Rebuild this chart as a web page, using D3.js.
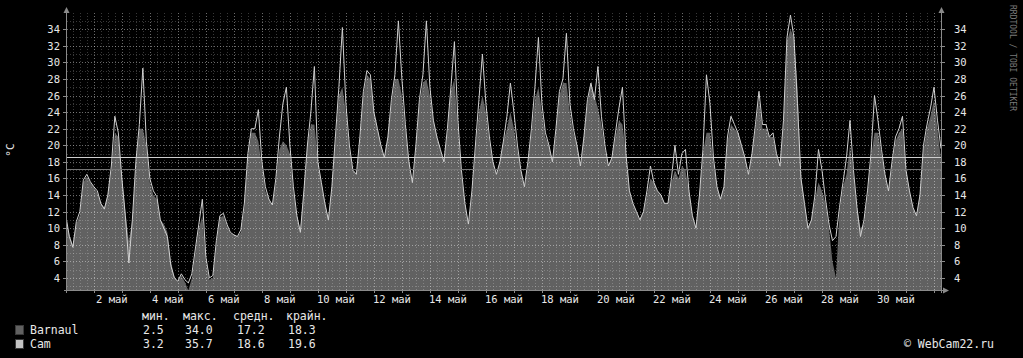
<!DOCTYPE html>
<html>
<head>
<meta charset="utf-8">
<script src="https://cdn.jsdelivr.net/npm/d3@7"></script>
<style>
  html, body { margin: 0; background: #000; }
  svg { display: block; }
  text { font-family: "DejaVu Sans Mono", monospace; fill: #e8e8e8; }
</style>
</head>
<body>
<svg id="chart" width="1023" height="358"></svg>
<script>
// ---- data: 3-hourly samples starting 1 May 00:00 ----
const firstSample = Date.UTC(2024, 4, 1, 0);
const stepHours = 3;

const barnaul = [
  11.5, 9.2, 8.0, 10.5, 11.6, 15.5, 16.2, 15.5,
  15.0, 14.3, 13.0, 12.5, 14.0, 17.0, 21.5, 21.0,
  16.5, 12.0, 8.5, 11.0, 17.5, 22.0, 22.0, 20.0,
  15.5, 14.0, 13.5, 11.0, 10.5, 9.5, 6.0, 4.2,
  3.5, 4.3, 3.5, 2.5, 4.0, 7.0, 10.0, 11.5,
  6.0, 3.8, 4.0, 8.0, 11.3, 11.5, 10.3, 9.4,
  9.2, 9.0, 9.5, 12.5, 18.5, 21.5, 21.5, 20.5,
  17.5, 14.5, 13.5, 12.8, 15.5, 19.5, 20.5, 20.0,
  19.0, 14.5, 11.5, 9.8, 14.5, 20.0, 22.5, 22.5,
  18.0, 15.5, 13.0, 11.2, 15.0, 20.5, 26.0, 27.0,
  24.0, 19.5, 17.0, 16.5, 20.5, 26.0, 28.5, 28.0,
  24.0, 22.0, 20.0, 18.5, 21.0, 25.0, 28.0, 28.0,
  26.0, 22.0, 18.0, 15.5, 19.5, 25.0, 27.5, 28.0,
  26.0, 23.0, 21.0, 19.5, 18.0, 21.5, 26.5, 28.0,
  22.0, 16.5, 13.0, 10.5, 14.0, 19.5, 24.0, 26.0,
  24.0, 20.5, 18.0, 16.5, 18.0, 20.5, 22.0, 24.0,
  22.0, 19.5, 17.0, 15.0, 17.5, 21.5, 25.5, 27.0,
  24.0, 21.0, 20.0, 18.0, 21.5, 26.0, 27.5, 27.5,
  24.0, 21.5, 20.0, 17.5, 21.0, 25.0, 27.5, 26.0,
  24.5, 22.5, 19.5, 17.5, 18.5, 21.0, 23.0, 22.5,
  19.0, 14.5, 13.0, 12.0, 11.0, 12.0, 14.0, 16.0,
  15.5, 14.5, 14.0, 13.0, 13.0, 15.5, 17.0, 16.0,
  17.5, 17.0, 14.5, 11.5, 10.0, 14.0, 19.0, 21.5,
  21.5, 18.0, 15.0, 13.5, 15.0, 20.5, 22.5, 22.0,
  21.5, 20.0, 18.5, 16.5, 19.0, 22.0, 25.5, 22.0,
  22.0, 21.0, 21.0, 19.0, 17.5, 22.5, 32.5, 34.0,
  33.0, 27.0, 16.5, 13.0, 10.0, 11.0, 13.5, 15.5,
  14.5, 13.0, 10.0, 6.0, 4.0, 12.0, 15.0, 16.5,
  20.0, 16.5, 12.5, 10.0, 10.5, 14.0, 18.5, 21.5,
  21.5, 19.0, 16.5, 14.5, 17.5, 20.5, 21.5, 22.0,
  17.0, 14.5, 12.5, 11.5, 14.0, 19.5, 22.0, 23.5,
  25.5, 22.0, 18.3
];

const cam = [
  11.5, 9.0, 7.7, 10.8, 12.0, 15.8, 16.5, 15.6,
  15.0, 14.5, 13.0, 12.3, 14.0, 17.5, 23.5, 21.5,
  16.0, 11.5, 5.8, 11.0, 18.0, 22.5, 29.3, 20.5,
  16.0, 14.5, 13.8, 11.0, 10.0, 9.0, 5.5, 4.0,
  3.6, 4.5, 3.8, 3.4, 4.5, 7.5, 10.5, 13.5,
  6.5, 4.0, 4.3, 8.5, 11.5, 11.8, 10.5, 9.5,
  9.2, 9.0, 9.8, 13.0, 19.0, 22.0, 22.0, 24.3,
  18.0, 15.0, 13.5, 12.8, 16.0, 21.0, 25.0, 27.0,
  20.0, 15.0, 11.5, 9.5, 14.5, 20.0, 24.0, 29.5,
  18.0, 15.5, 13.0, 11.0, 15.0, 21.0, 27.0, 34.2,
  25.0, 20.0, 17.0, 16.5, 21.0, 26.5, 29.0, 28.5,
  24.0, 22.0, 20.0, 18.5, 21.0, 25.5, 28.5, 35.0,
  28.0, 22.5, 18.0, 15.5, 20.0, 25.5, 28.5, 35.0,
  27.0, 23.0, 21.0, 19.5, 18.0, 22.0, 27.0, 32.5,
  23.0, 17.0, 13.0, 10.5, 14.5, 20.0, 25.5, 31.0,
  25.0, 21.0, 18.0, 16.5, 18.0, 20.5, 23.5, 27.5,
  24.0, 20.0, 17.0, 15.0, 18.0, 22.0, 27.0, 33.0,
  25.0, 21.5, 20.0, 18.0, 22.0, 26.5, 28.0, 33.5,
  25.0, 22.0, 20.0, 17.5, 21.0, 25.5, 27.5, 25.5,
  29.5, 23.5, 20.0, 17.5, 18.5, 21.5, 24.5, 27.0,
  19.0, 14.5, 13.0, 12.0, 11.0, 12.0, 14.5, 17.5,
  15.5, 14.5, 14.0, 13.0, 13.0, 16.0, 20.0, 16.5,
  19.0, 19.5, 14.5, 11.5, 10.0, 14.0, 19.5, 28.5,
  25.0, 18.5, 15.0, 13.5, 15.0, 21.0, 23.5, 22.5,
  21.5, 20.0, 18.5, 16.5, 19.0, 22.5, 26.5, 22.5,
  22.5, 21.0, 21.5, 19.0, 17.5, 23.0, 33.0, 35.7,
  33.0, 25.0, 16.0, 13.0, 10.0, 11.0, 14.0, 19.5,
  17.0, 13.5, 10.5, 8.5, 9.0, 12.5, 15.5, 18.5,
  23.0, 17.0, 12.5, 9.0, 11.0, 14.5, 19.0, 26.0,
  23.0, 19.5, 16.5, 14.5, 18.0, 21.0, 22.0, 23.5,
  17.0, 14.5, 12.5, 11.5, 14.0, 20.0, 22.5, 24.5,
  27.0, 23.0, 19.6
];

const seriesNames = ['Barnaul', 'Cam'];
const legendHeads = ['мин.', 'макс.', 'средн.', 'крайн.'];
const legendBarnaul = ['2.5', '34.0', '17.2', '18.3'];
const legendCam = ['3.2', '35.7', '18.6', '19.6'];
const averages = [17.2, 18.6];
const unitLabel = '°C';
const monthLabel = 'май';

(function () {
  // ---- layout ----
  const W = 1023, H = 358;
  const pL = 67, pR = 941, pT = 13, pB = 290;
  const colArea = '#616161', colLine = '#cfcfcf';

  const svg = d3.select('#chart');
  svg.append('rect').attr('width', W).attr('height', H).attr('fill', '#000');

  const x = d3.scaleUtc()
    .domain([Date.UTC(2024, 4, 1, 1), Date.UTC(2024, 5, 1, 6)])
    .range([pL, pR]);
  const y = d3.scaleLinear().domain([2.55, 35.95]).range([pB, pT]);

  const toPoints = arr => arr.map((v, i) => ({t: new Date(firstSample + i * stepHours * 3600e3), v}));
  const ptsB = toPoints(barnaul), ptsC = toPoints(cam);

  svg.append('clipPath').attr('id', 'plot')
    .append('rect').attr('x', pL).attr('y', pT).attr('width', pR - pL).attr('height', pB - pT);

  const gData = svg.append('g').attr('clip-path', 'url(#plot)');

  gData.append('path')
    .datum(ptsB)
    .attr('fill', colArea)
    .attr('d', d3.area().x(d => x(d.t)).y0(pB).y1(d => y(d.v)));

  gData.append('path')
    .datum(ptsC)
    .attr('fill', 'none')
    .attr('stroke', colLine)
    .attr('stroke-width', 1)
    .attr('d', d3.line().x(d => x(d.t)).y(d => y(d.v)));

  // ---- grid (drawn over the data, like rrdtool) ----
  const gGrid = svg.append('g');
  const px = v => Math.round(v) + 0.5;
  const [t0, t1] = x.domain();

  d3.utcHour.every(6).range(t0, t1).forEach(t => {
    const isDay = t.getUTCHours() === 0;
    gGrid.append('line')
      .attr('x1', px(x(t))).attr('x2', px(x(t)))
      .attr('y1', pT).attr('y2', pB)
      .attr('stroke', isDay ? 'rgba(255,255,255,0.42)' : 'rgba(255,255,255,0.22)')
      .attr('stroke-dasharray', '1,2');
  });
  d3.range(3, 36).forEach(v => {
    const major = v % 2 === 0 && v >= 4 && v <= 34;
    gGrid.append('line')
      .attr('x1', pL).attr('x2', pR)
      .attr('y1', px(y(v))).attr('y2', px(y(v)))
      .attr('stroke', major ? 'rgba(255,255,255,0.42)' : 'rgba(255,255,255,0.22)')
      .attr('stroke-dasharray', '1,2');
  });

  // averages
  svg.append('line')
    .attr('x1', pL).attr('x2', pR)
    .attr('y1', px(y(averages[0]))).attr('y2', px(y(averages[0])))
    .attr('stroke', '#767676');
  svg.append('line')
    .attr('x1', pL).attr('x2', pR)
    .attr('y1', px(y(averages[1]))).attr('y2', px(y(averages[1])))
    .attr('stroke', colLine);

  // ---- axes ----
  const axisCol = '#8a8a8a';
  const gAxis = svg.append('g');
  gAxis.append('line').attr('x1', pL - 0.5).attr('x2', pL - 0.5).attr('y1', pB + 3).attr('y2', 10).attr('stroke', axisCol);
  gAxis.append('line').attr('x1', pR + 0.5).attr('x2', pR + 0.5).attr('y1', pB + 3).attr('y2', 10).attr('stroke', axisCol);
  gAxis.append('line').attr('x1', pL - 3).attr('x2', pR + 4).attr('y1', pB + 0.5).attr('y2', pB + 0.5).attr('stroke', axisCol);
  gAxis.append('path').attr('d', `M${pL - 3.5},13L${pL - 0.5},7L${pL + 2.5},13Z`).attr('fill', axisCol);
  gAxis.append('path').attr('d', `M${pR - 2.5},13L${pR + 0.5},7L${pR + 3.5},13Z`).attr('fill', axisCol);
  gAxis.append('path').attr('d', `M${pR + 2},${pB - 2.5}L${pR + 8},${pB + 0.5}L${pR + 2},${pB + 3.5}Z`).attr('fill', axisCol);

  const yTicks = d3.range(4, 35, 2);
  yTicks.forEach(v => {
    const yy = px(y(v));
    gAxis.append('line').attr('x1', pL - 4).attr('x2', pL).attr('y1', yy).attr('y2', yy).attr('stroke', axisCol);
    gAxis.append('line').attr('x1', pR).attr('x2', pR + 4).attr('y1', yy).attr('y2', yy).attr('stroke', axisCol);
    gAxis.append('text').attr('x', pL - 7).attr('y', yy).attr('dy', '0.36em')
      .attr('text-anchor', 'end').attr('font-size', 10.5).text(v);
    gAxis.append('text').attr('x', pR + 13).attr('y', yy).attr('dy', '0.36em')
      .attr('text-anchor', 'start').attr('font-size', 10.5).text(v);
  });

  d3.utcDay.range(t0, t1).forEach(t => {
    gAxis.append('line').attr('x1', px(x(t))).attr('x2', px(x(t)))
      .attr('y1', pB).attr('y2', pB + 3).attr('stroke', axisCol);
  });
  d3.utcDay.range(t0, t1).filter(t => t.getUTCDate() % 2 === 0).forEach(t => {
    const noon = new Date(+t + 12 * 3600e3);
    gAxis.append('text').attr('x', x(noon) + 4).attr('y', 303)
      .attr('text-anchor', 'middle').attr('font-size', 10.5)
      .text(`${t.getUTCDate()} ${monthLabel}`);
  });

  svg.append('text').attr('transform', 'translate(14,150) rotate(-90)')
    .attr('text-anchor', 'middle').attr('font-size', 11).text(unitLabel);

  svg.append('text').attr('transform', 'translate(1010,5) rotate(90)')
    .attr('font-size', 8).style('fill', '#7a7a7a').text('RRDTOOL / TOBI OETIKER');

  // ---- legend ----
  const gLeg = svg.append('g').attr('font-size', 11.5);
  const headX = [142, 183, 233, 286];
  const valX = [143, 185, 237, 288];
  legendHeads.forEach((h, i) => gLeg.append('text').attr('x', headX[i]).attr('y', 320).text(h));
  const rows = [
    {name: seriesNames[0], col: colArea, vals: legendBarnaul, yy: 334},
    {name: seriesNames[1], col: '#c4c4c4', vals: legendCam, yy: 348}
  ];
  rows.forEach(r => {
    gLeg.append('rect').attr('x', 15.5).attr('y', r.yy - 8.5).attr('width', 8).attr('height', 9)
      .attr('fill', r.col).attr('stroke', '#3a3a3a');
    gLeg.append('text').attr('x', 30).attr('y', r.yy).text(r.name);
    r.vals.forEach((v, i) => gLeg.append('text').attr('x', valX[i]).attr('y', r.yy).text(v));
  });
  gLeg.append('text').attr('x', 904).attr('y', 348).text('© WebCam22.ru');
})();
</script>
</body>
</html>
